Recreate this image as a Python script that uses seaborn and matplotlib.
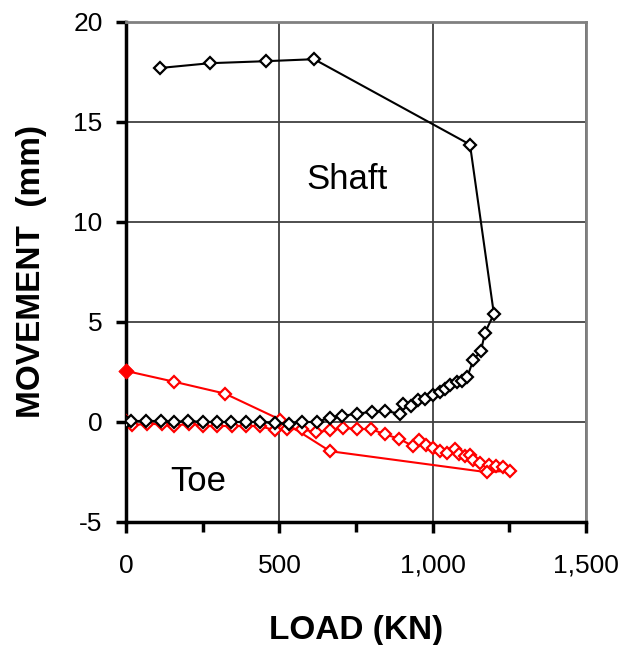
import matplotlib
matplotlib.use("Agg")
from matplotlib import pyplot as plt
from matplotlib.ticker import FuncFormatter, MultipleLocator
import pandas as pd
import seaborn as sns

# shaft: loading up to ~1200 KN, then unloading
shaft_load = [0, 15, 64, 113, 157, 202, 249, 295, 342, 391, 435, 485, 530, 573,
              622, 665, 703, 752, 801, 844, 893, 904, 931, 953, 975, 1002, 1024,
              1040, 1056, 1078, 1095, 1113, 1133, 1158, 1171, 1200,
              1122, 613, 455, 273, 110]
shaft_mov = [0.0, 0.05, 0.05, 0.05, 0.0, 0.05, 0.0, 0.0, 0.0, 0.0, 0.0, -0.05, -0.08, 0.0,
             0.0, 0.22, 0.29, 0.42, 0.5, 0.55, 0.42, 0.92, 0.8, 1.09, 1.17, 1.34, 1.5,
             1.67, 1.84, 2.0, 2.06, 2.26, 3.1, 3.57, 4.47, 5.4,
             13.87, 18.14, 18.04, 17.94, 17.7]

# toe: loading up to ~1250 KN, then unloading with rebound
toe_load = [0, 18, 66, 116, 156, 205, 251, 297, 344, 391, 436, 485, 523, 572,
            618, 665, 708, 752, 800, 845, 891, 935, 955, 977, 1002, 1024, 1047,
            1073, 1087, 1105, 1122, 1133, 1155, 1185, 1207, 1230, 1252,
            1177, 665, 502, 322, 157, 0]
toe_mov = [0.05, -0.17, -0.08, -0.12, -0.2, -0.08, -0.2, -0.2, -0.2, -0.2, -0.2, -0.42, -0.34, -0.37,
           -0.5, -0.42, -0.3, -0.34, -0.36, -0.62, -0.84, -1.2, -0.92, -1.15, -1.3, -1.44, -1.55,
           -1.34, -1.59, -1.68, -1.67, -1.9, -2.03, -2.14, -2.18, -2.26, -2.43,
           -2.51, -1.46, 0.12, 1.42, 2.01, 2.55]

x_ticks = [0, 500, 1000, 1500]
y_ticks = [-5, 0, 5, 10, 15, 20]

sns.set_style("white")
plt.rcParams['font.family'] = ['Liberation Sans', 'DejaVu Sans']
plt.rcParams['axes.unicode_minus'] = False
plt.rcParams['text.color'] = 'black'
plt.rcParams['xtick.color'] = 'black'
plt.rcParams['ytick.color'] = 'black'
plt.rcParams['axes.labelcolor'] = 'black'

fig = plt.figure(figsize=(6.29, 6.45), dpi=100)
ax = fig.add_axes([0.2008, 0.1907, 0.7305, 0.7752])

df_shaft = pd.DataFrame({"load": shaft_load, "mov": shaft_mov})
df_toe = pd.DataFrame({"load": toe_load, "mov": toe_mov})

for df, color in [(df_toe, "red"), (df_shaft, "black")]:
    sns.lineplot(data=df, x="load", y="mov", sort=False, estimator=None, ax=ax,
                 color=color, lw=1.5, marker="D", markersize=6.5,
                 markerfacecolor="white", markeredgecolor=color, markeredgewidth=1.6,
                 zorder=3)

# final unloaded toe reading is shown filled
sns.scatterplot(x=[toe_load[-1]], y=[toe_mov[-1]], ax=ax, color="red", marker="D",
                s=60, edgecolor="red", zorder=4, clip_on=False)

ax.set_xlim(0, 1500)
ax.set_ylim(-5, 20)
ax.set_xticks(x_ticks)
ax.set_yticks(y_ticks)
ax.xaxis.set_minor_locator(MultipleLocator(250))
ax.xaxis.set_major_formatter(FuncFormatter(lambda v, p: f"{int(v):,}"))

ax.grid(True, color="#404040", lw=1.3)
ax.set_axisbelow(True)
for side in ["left", "bottom"]:
    ax.spines[side].set_color("black")
    ax.spines[side].set_linewidth(2.5)
for side in ["top", "right"]:
    ax.spines[side].set_color("#808080")
    ax.spines[side].set_linewidth(2)

ax.tick_params(axis="both", which="both", direction="out", width=2.5, labelsize=19)
ax.tick_params(axis="x", which="major", length=8, pad=15)
ax.tick_params(axis="x", which="minor", length=7)
ax.tick_params(axis="y", which="major", length=7, pad=10, left=True)
ax.tick_params(axis="x", bottom=True, which="both")

ax.set_xlabel("LOAD (KN)", fontsize=24, fontweight="bold", labelpad=27)
ax.set_ylabel("MOVEMENT  (mm)", fontsize=24, fontweight="bold", labelpad=19)

ax.text(720, 12.1, "Shaft", fontsize=25, ha="center", va="center")
ax.text(234, -3.0, "Toe", fontsize=25, ha="center", va="center")

fig.savefig("out.png", dpi=100)
plt.close(fig)
